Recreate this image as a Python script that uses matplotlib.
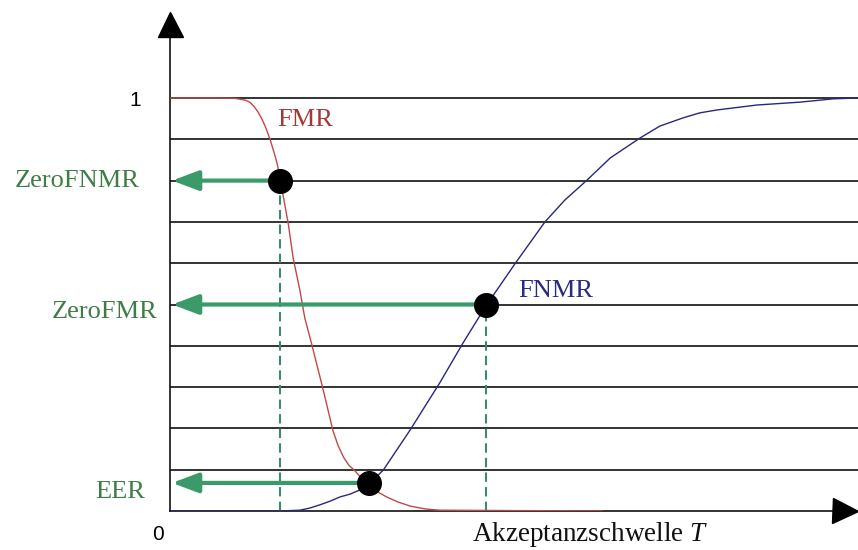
import matplotlib
matplotlib.use("Agg")
import matplotlib.pyplot as plt

# Schwelle T (willkuerliche Einheiten 0..10) und Fehlerraten
fmr_t = [0.00, 0.73, 0.95, 1.09, 1.16, 1.22, 1.28, 1.34, 1.40, 1.46, 1.52, 1.56,
         1.60, 1.64, 1.72, 1.79, 1.89, 1.96, 2.06, 2.22, 2.37, 2.44, 2.52, 2.60,
         2.69, 2.79, 2.91, 3.02, 3.15, 3.31, 3.49, 3.71, 3.92, 6.28]
fmr = [1.000, 1.000, 0.999, 0.995, 0.990, 0.980, 0.966, 0.948, 0.925, 0.897, 0.864, 0.840,
       0.804, 0.768, 0.695, 0.613, 0.533, 0.467, 0.404, 0.298, 0.194, 0.160, 0.131, 0.111,
       0.097, 0.078, 0.058, 0.046, 0.034, 0.022, 0.012, 0.005, 0.002, 0.000]

fnmr_t = [0.00, 1.60, 1.74, 1.89, 2.03, 2.18, 2.33, 2.47, 2.62, 2.76, 2.91, 3.10,
          3.49, 3.92, 4.26, 4.59, 5.02, 5.45, 5.74, 6.06, 6.40, 6.83, 7.12, 7.46,
          7.70, 7.95, 8.53, 9.16, 9.64, 10.00]
fnmr = [0.000, 0.000, 0.001, 0.002, 0.007, 0.015, 0.024, 0.034, 0.041, 0.051, 0.068, 0.099,
        0.196, 0.310, 0.407, 0.496, 0.600, 0.700, 0.753, 0.801, 0.855, 0.903, 0.932, 0.952,
        0.964, 0.971, 0.983, 0.990, 0.998, 1.000]

# markierte Punkte
point_names = ["ZeroFNMR", "ZeroFMR", "EER"]
point_t = [1.60, 4.59, 2.89]
point_rate = [0.80, 0.50, 0.068]
point_dashed = [True, True, False]

grid_levels = [0.1, 0.2, 0.3, 0.4, 0.5, 0.6, 0.7, 0.8, 0.9, 1.0]

SERIF = "Liberation Serif"
GREEN_TXT = "#3e7e46"
GREEN_ARR = "#3a9a6a"
RED = "#c04848"
BLUE = "#28287a"

plt.rcParams["mathtext.fontset"] = "custom"
plt.rcParams["mathtext.it"] = "Liberation Serif:italic"
plt.rcParams["mathtext.rm"] = "Liberation Serif"

fig = plt.figure(figsize=(8.58, 5.5), dpi=100)
ax = fig.add_axes([0.1981, 0.0709, 0.8019, 0.9011])
ax.set_xlim(0, 10)
ax.set_ylim(0, 1.2)
ax.axis("off")

# horizontale Linien
for lv in grid_levels:
    ax.plot([0, 10], [lv, lv], color="#111111", lw=1.2, zorder=1)

# Achsen mit Pfeilen
ax.plot([0, 9.7], [0, 0], color="#111111", lw=1.2, zorder=1, clip_on=False)
ax.plot([0, 0], [0, 1.15], color="#111111", lw=1.2, zorder=1, clip_on=False)
ax.plot(0, 1.178, marker="^", color="black", ms=18, clip_on=False, zorder=5)
ax.plot(9.81, 0, marker=">", color="black", ms=18, clip_on=False, zorder=5)

# Kurven
ax.plot(fmr_t, fmr, color=RED, lw=1.0, zorder=3)
ax.plot(fnmr_t, fnmr, color=BLUE, lw=1.0, zorder=3)

# Pfeile, gestrichelte Linien, Punkte
for name, t, r, dashed in zip(point_names, point_t, point_rate, point_dashed):
    ax.annotate("", xy=(0.03, r), xytext=(t, r),
                arrowprops=dict(arrowstyle="-|>,head_length=0.8,head_width=0.3",
                                color=GREEN_ARR, lw=3, shrinkA=0, shrinkB=0,
                                mutation_scale=20), zorder=4)
    if dashed:
        ax.plot([t, t], [0, r], color="#3d8a66", lw=1.5, dashes=(4.5, 2.5), zorder=2)
    ax.plot(t, r, "o", color="black", ms=17, zorder=6)

# Beschriftungen
ax.text(-0.436, 0.799, "ZeroFNMR", family=SERIF, fontsize=19, color=GREEN_TXT,
        ha="right", va="center", clip_on=False)
ax.text(-0.189, 0.482, "ZeroFMR", family=SERIF, fontsize=19, color=GREEN_TXT,
        ha="right", va="center", clip_on=False)
ax.text(-0.363, 0.046, "EER", family=SERIF, fontsize=19, color=GREEN_TXT,
        ha="right", va="center", clip_on=False)
ax.text(1.555, 0.932, "FMR", family=SERIF, fontsize=19, color="#a33838",
        ha="left", va="baseline")
ax.text(5.058, 0.518, "FNMR", family=SERIF, fontsize=19, color="#2a2a80",
        ha="left", va="baseline")
ax.text(4.39, -0.072, "Akzeptanzschwelle $T$", family=SERIF, fontsize=19.5,
        color="#111111", ha="left", va="baseline", clip_on=False)
ax.text(-0.51, 0.995, "1", family="Liberation Sans", fontsize=15,
        ha="center", va="center", clip_on=False)
ax.text(-0.174, -0.058, "0", family="Liberation Sans", fontsize=15,
        ha="center", va="center", clip_on=False)

fig.savefig("out.png", dpi=100)
